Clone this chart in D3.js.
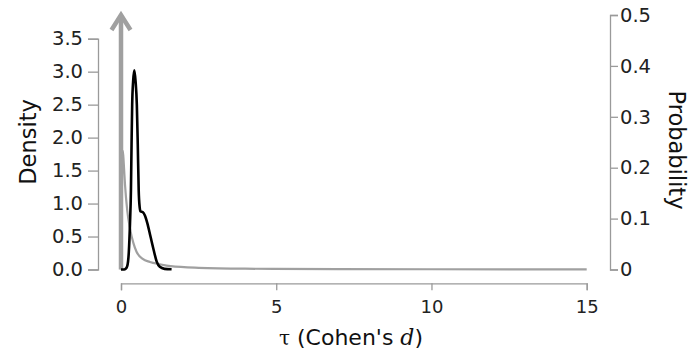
<!DOCTYPE html>
<html>
<head>
<meta charset="utf-8">
<script src="https://cdn.jsdelivr.net/npm/d3@7"></script>
<style>
  body { margin: 0; background: #fff; }
  svg { display: block; }
</style>
</head>
<body>
<script>
// prior density (grey) and posterior density (black) for tau
const priorTau = [0, 0.02, 0.04, 0.06, 0.09, 0.13, 0.2, 0.29, 0.4, 0.5, 0.7, 0.93, 1.25, 1.6, 2.5, 4, 7, 10, 15];
const priorDens = [0, 0.9, 1.6, 1.8, 1.6, 1.28, 0.9, 0.62, 0.4, 0.27, 0.16, 0.115, 0.08, 0.05, 0.025, 0.012, 0.006, 0.004, 0.002];

const postTau = [0, 0.1, 0.15, 0.2, 0.25, 0.29, 0.32, 0.34, 0.36, 0.39, 0.43, 0.47, 0.51, 0.54, 0.57, 0.6, 0.63, 0.7, 0.77, 0.85, 0.95, 1.05, 1.15, 1.25, 1.4, 1.63];
const postDens = [0, 0, 0.01, 0.05, 0.25, 0.7, 1.2, 1.9, 2.5, 2.85, 3.02, 2.85, 2.5, 1.9, 1.2, 0.95, 0.88, 0.87, 0.82, 0.7, 0.5, 0.3, 0.12, 0.04, 0.01, 0.003];

// point mass at tau = 0 (prior probability)
const spikeProb = 0.5;

const xTicks = [0, 5, 10, 15];
const densTicks = [0, 0.5, 1, 1.5, 2, 2.5, 3, 3.5];
const probTicks = [0, 0.1, 0.2, 0.3, 0.4, 0.5];

const width = 689, height = 362;
const svg = d3.select("body").append("svg")
  .attr("width", width)
  .attr("height", height);

const x = d3.scaleLinear().domain([0, 15]).range([121, 586.7]);
const yDens = d3.scaleLinear().domain([0, 3.5]).range([269.5, 38.7]);
const yProb = d3.scaleLinear().domain([0, 0.5]).range([269.5, 15]);

const axisCol = "#9a9a9a";
const font = "DejaVu Sans, sans-serif";

// left axis (density)
const gLeft = svg.append("g")
  .attr("transform", "translate(98,0)")
  .call(d3.axisLeft(yDens).tickValues(densTicks).tickFormat(d3.format(".1f")).tickSize(10).tickPadding(5));

// right axis (probability)
const gRight = svg.append("g")
  .attr("transform", "translate(610,0)")
  .call(d3.axisRight(yProb).tickValues(probTicks).tickFormat(d => d === 0 ? "0" : d3.format(".1f")(d)).tickSize(8).tickPadding(2));

// bottom axis
const gBottom = svg.append("g")
  .attr("transform", "translate(0,283.3)")
  .call(d3.axisBottom(x).tickValues(xTicks).tickSize(7).tickPadding(10));

[gLeft, gRight, gBottom].forEach(g => {
  g.select(".domain").attr("stroke", axisCol).attr("stroke-width", 1.3);
  g.selectAll(".tick line").attr("stroke", axisCol).attr("stroke-width", 1.3);
  g.selectAll(".tick text")
    .attr("fill", "#222")
    .style("font-family", font)
    .style("font-size", "19.5px");
});
gBottom.selectAll(".tick text").style("font-size", "18px");

// axis titles
svg.append("text")
  .attr("transform", "translate(36,142) rotate(-90)")
  .attr("text-anchor", "middle")
  .style("font-family", font)
  .style("font-size", "22.5px")
  .attr("fill", "#111")
  .text("Density");

svg.append("text")
  .attr("transform", "translate(669,150) rotate(90)")
  .attr("text-anchor", "middle")
  .style("font-family", font)
  .style("font-size", "22.5px")
  .attr("fill", "#111")
  .text("Probability");

const xt = svg.append("text")
  .attr("x", 351)
  .attr("y", 345)
  .attr("text-anchor", "middle")
  .style("font-family", font)
  .style("font-size", "22px")
  .attr("fill", "#111");
xt.append("tspan").style("font-family", "DejaVu Serif, serif").style("font-size", "20px").text("τ");
xt.append("tspan").text(" (Cohen's ");
xt.append("tspan").style("font-family", "DejaVu Serif, serif").style("font-style", "italic").style("font-size", "22px").text("d");
xt.append("tspan").text(")");

// spike arrow for the point mass
const grey = "#a0a0a0";
svg.append("line")
  .attr("x1", x(0)).attr("x2", x(0))
  .attr("y1", yProb(0)).attr("y2", yProb(spikeProb) + 2)
  .attr("stroke", grey).attr("stroke-width", 4.5);
svg.append("path")
  .attr("d", `M${x(0) - 9.5},${yProb(spikeProb) + 15} L${x(0)},${yProb(spikeProb)} L${x(0) + 9.5},${yProb(spikeProb) + 15}`)
  .attr("fill", "none")
  .attr("stroke", grey).attr("stroke-width", 4.5)
  .attr("stroke-linejoin", "miter");

// density lines
const priorData = priorTau.map((t, i) => [t, priorDens[i]]);
const postData = postTau.map((t, i) => [t, postDens[i]]);

const line = d3.line()
  .x(d => x(d[0]))
  .y(d => yDens(d[1]))
  .curve(d3.curveMonotoneX);

svg.append("path")
  .datum(priorData)
  .attr("d", line)
  .attr("fill", "none")
  .attr("stroke", grey)
  .attr("stroke-width", 2.2);

svg.append("path")
  .datum(postData)
  .attr("d", line)
  .attr("fill", "none")
  .attr("stroke", "#000")
  .attr("stroke-width", 2.6)
  .attr("stroke-linejoin", "round");
</script>
</body>
</html>
